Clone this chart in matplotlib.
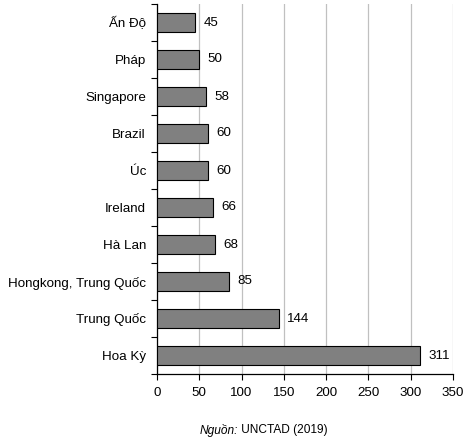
import matplotlib.pyplot as plt
import numpy as np

plt.rcParams['font.family'] = ['Liberation Sans', 'DejaVu Sans']

countries = ['Hoa Kỳ', 'Trung Quốc', 'Hongkong, Trung Quốc', 'Hà Lan', 'Ireland',
             'Úc', 'Brazil', 'Singapore', 'Pháp', 'Ấn Độ']
values = [311, 144, 85, 68, 66, 60, 60, 58, 50, 45]
xticks = [0, 50, 100, 150, 200, 250, 300, 350]

fig = plt.figure(figsize=(4.63, 4.40), dpi=100)
ax = fig.add_axes([157 / 463, 1 - 374 / 440, 296 / 463, 370 / 440])

pos = np.arange(len(countries))
ax.barh(pos, values, height=0.52, color='#808080', edgecolor='black', linewidth=0.8, zorder=3)
for p, v in zip(pos, values):
    ax.text(v + 10, p, str(v), va='center', ha='left', fontsize=9.6)

ax.set_xlim(0, 350)
ax.set_ylim(-0.5, len(countries) - 0.5)
ax.set_xticks(xticks)
ax.set_xticklabels([str(t) for t in xticks], fontsize=9.6)
ax.set_yticks(pos)
ax.set_yticklabels(countries, fontsize=9.6)
ax.tick_params(axis='y', length=0, pad=8)
# small tick marks between categories
ax.set_yticks(np.arange(-0.5, len(countries), 1), minor=True)
ax.tick_params(axis='y', which='minor', length=4, width=0.8, direction='out')
ax.tick_params(axis='x', length=4, width=0.8, direction='out', pad=5)
ax.xaxis.grid(True, color='#c0c0c0', linewidth=0.9, zorder=0)
ax.set_axisbelow(True)
for s in ['top', 'right']:
    ax.spines[s].set_visible(False)
for s in ['left', 'bottom']:
    ax.spines[s].set_linewidth(0.9)

fig.text(238 / 463, 1 - 430 / 440, 'Nguồn:', fontsize=8.6, style='italic', ha='right', va='center')
fig.text(238 / 463, 1 - 430 / 440, ' UNCTAD (2019)', fontsize=8.6, ha='left', va='center')

fig.savefig('out.png', dpi=100)
